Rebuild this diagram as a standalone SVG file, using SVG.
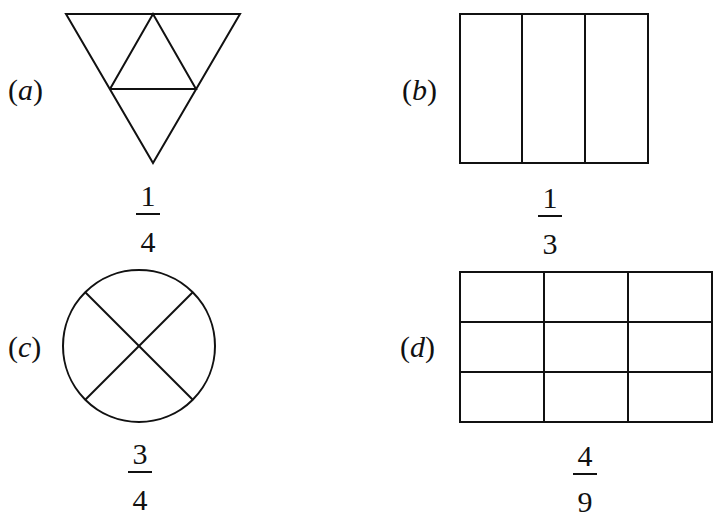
<svg xmlns="http://www.w3.org/2000/svg" width="728" height="532" viewBox="0 0 728 532">
<style>
.s{fill:none;stroke:#111;stroke-width:2}
text{font-family:'Liberation Serif','Times New Roman',Tinos,serif;font-size:30px;fill:#111}
.c{text-anchor:middle}
</style>
<rect width="728" height="532" fill="#fff"/>
<g id="a">
<polygon class="s" points="66,14 240,14 153,163"/>
<polyline class="s" points="110,89 153,14 196,89 110,89"/>
<text x="8" y="100">(<tspan font-style="italic">a</tspan>)</text>
<text class="c" x="148" y="206">1</text><line class="s" x1="136" y1="214" x2="160" y2="214"/><text class="c" x="148" y="252">4</text>
</g>
<g id="b">
<rect class="s" x="460" y="14" width="188" height="149"/>
<line class="s" x1="522" y1="14" x2="522" y2="163"/><line class="s" x1="585" y1="14" x2="585" y2="163"/>
<text x="402" y="100">(<tspan font-style="italic">b</tspan>)</text>
<text class="c" x="550" y="208">1</text><line class="s" x1="538" y1="216" x2="562" y2="216"/><text class="c" x="550" y="254">3</text>
</g>
<g id="c">
<circle class="s" cx="139" cy="346" r="76"/>
<line class="s" x1="85" y1="292" x2="193" y2="400"/><line class="s" x1="193" y1="292" x2="85" y2="400"/>
<text x="8" y="357">(<tspan font-style="italic">c</tspan>)</text>
<text class="c" x="140" y="464">3</text><line class="s" x1="128" y1="472" x2="152" y2="472"/><text class="c" x="140" y="510">4</text>
</g>
<g id="d">
<rect class="s" x="460" y="272" width="252" height="150"/>
<line class="s" x1="460" y1="322" x2="712" y2="322"/><line class="s" x1="460" y1="372" x2="712" y2="372"/>
<line class="s" x1="544" y1="272" x2="544" y2="422"/><line class="s" x1="628" y1="272" x2="628" y2="422"/>
<text x="400" y="357">(<tspan font-style="italic">d</tspan>)</text>
<text class="c" x="585" y="466">4</text><line class="s" x1="573" y1="474" x2="597" y2="474"/><text class="c" x="585" y="512">9</text>
</g>
<g id="connectors"/>
</svg>
